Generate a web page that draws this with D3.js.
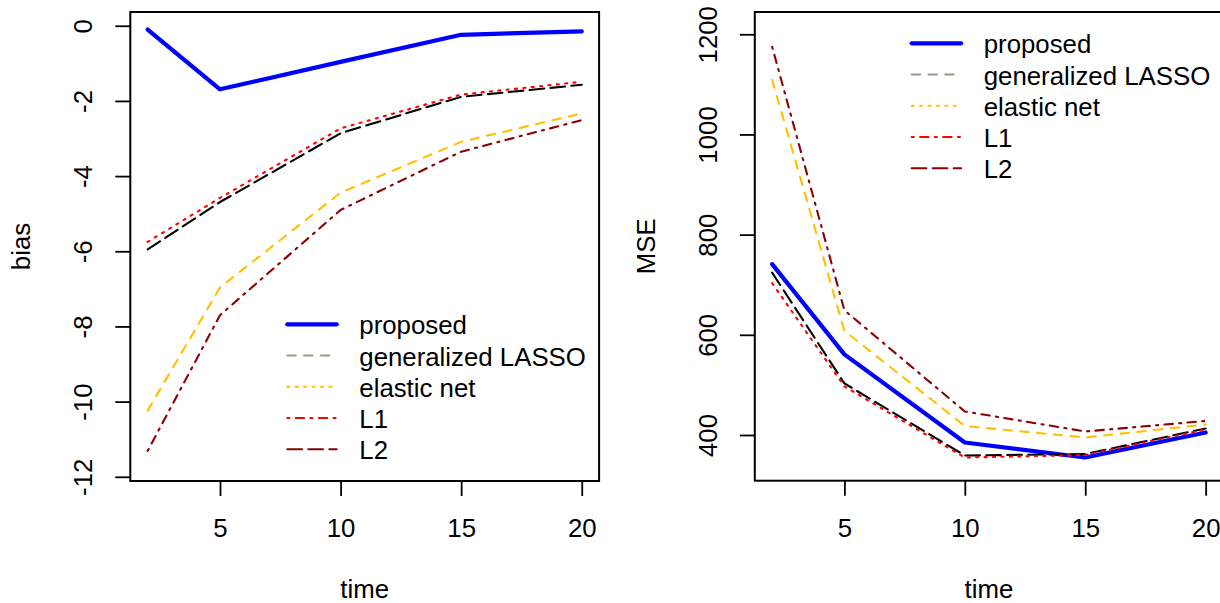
<!DOCTYPE html>
<html>
<head>
<meta charset="utf-8">
<script src="https://cdn.jsdelivr.net/npm/d3@7"></script>
<style>
  html, body { margin: 0; padding: 0; background: #fff; }
  svg { display: block; }
  text { font-family: "Liberation Sans", Arial, Helvetica, sans-serif; fill: #000; }
</style>
</head>
<body>
<svg id="chart" width="1220" height="603"></svg>
<script>
// ---- data ----
const time = [2, 5, 10, 15, 20];
const timeTicks = [5, 10, 15, 20];

const methods = ["proposed", "generalized LASSO", "elastic net", "L1", "L2"];

// bias by method over time
const biasProposed = [-0.10, -1.69, -0.96, -0.24, -0.15];
const biasGLasso   = [-5.95, -4.69, -2.86, -1.89, -1.57];
const biasElastic  = [-10.24, -6.96, -4.44, -3.09, -2.33];
const biasL1       = [-5.75, -4.58, -2.73, -1.83, -1.49];
const biasL2       = [-11.31, -7.70, -4.90, -3.35, -2.51];
const biasTicks = [0, -2, -4, -6, -8, -10, -12];
const biasLim = [-11.65, -0.096];

// MSE by method over time
const mseProposed = [741, 561, 385, 355, 405];
const mseGLasso   = [724, 503, 359, 362, 413];
const mseElastic  = [1109, 608, 418, 395, 421];
const mseL1       = [703, 497, 355, 360, 411];
const mseL2       = [1175, 649, 447, 407, 428];
const mseTicks = [400, 600, 800, 1000, 1200];
const mseLim = [343.4, 1209.8];

// ---- styling (R-like line types, scaled) ----
const u = 2.1;                       // one lty unit / lwd=1 in px
const lty = {
  solid: null,
  dashed: [4 * u, 4 * u],
  dotted: [1 * u, 3 * u],
  dotdash: [1 * u, 3 * u, 4 * u, 3 * u],
  longdash: [7 * u, 3 * u]
};
// styles of the drawn curves
const curveStyle = [
  { color: "#0000FF", lty: "solid",    lwd: 2 },
  { color: "#000000", lty: "longdash", lwd: 1 },
  { color: "#FFC000", lty: "dashed",   lwd: 1 },
  { color: "#FF0000", lty: "dotted",   lwd: 1 },
  { color: "#8B0000", lty: "dotdash",  lwd: 1 }
];
// styles of the legend keys
const keyStyle = [
  { color: "#0000FF", lty: "solid",    lwd: 2 },
  { color: "#999980", lty: "dashed",   lwd: 1 },
  { color: "#FFC000", lty: "dotted",   lwd: 1 },
  { color: "#FF0000", lty: "dotdash",  lwd: 1 },
  { color: "#8B0000", lty: "longdash", lwd: 1 }
];

const FONT = 25.8;
const svg = d3.select("#chart");

// R-style 4% axis expansion
function expand(lim) {
  const d = (lim[1] - lim[0]) * 0.04;
  return [lim[0] - d, lim[1] + d];
}

function panel(opts) {
  const { left, right, top, bottom, seriesList, yLim, yTicks, yLabel, legendX, legendY } = opts;
  const g = svg.append("g");

  const x = d3.scaleLinear().domain(expand(d3.extent(time))).range([left, right]);
  const y = d3.scaleLinear().domain(expand(yLim)).range([bottom, top]);

  // x axis
  const xa = g.append("g")
    .attr("transform", `translate(0,${bottom})`)
    .call(d3.axisBottom(x).tickValues(timeTicks).tickSize(15).tickPadding(22.5).tickFormat(d3.format("d")));
  xa.select(".domain").remove();
  xa.selectAll(".tick line").attr("stroke", "#000").attr("stroke-width", 1.8);
  xa.selectAll("text").attr("font-size", FONT).attr("font-family", null).attr("fill", "#000");

  // y axis with rotated labels
  const ya = g.append("g")
    .attr("transform", `translate(${left},0)`)
    .call(d3.axisLeft(y).tickValues(yTicks).tickSize(15).tickFormat(d => String(d)));
  ya.select(".domain").remove();
  ya.selectAll(".tick line").attr("stroke", "#000").attr("stroke-width", 1.8);
  ya.selectAll("text")
    .attr("x", null).attr("dy", null)
    .attr("transform", "translate(-38,0) rotate(-90)")
    .attr("text-anchor", "middle")
    .attr("font-size", FONT).attr("font-family", null).attr("fill", "#000");

  // axis titles
  g.append("text")
    .attr("x", (left + right) / 2).attr("y", bottom + 117)
    .attr("text-anchor", "middle").attr("font-size", FONT)
    .text("time");
  g.append("text")
    .attr("transform", `translate(${left - 100},${(top + bottom) / 2}) rotate(-90)`)
    .attr("text-anchor", "middle").attr("font-size", FONT)
    .text(yLabel);

  // curves
  const line = d3.line().x((d, i) => x(time[i])).y(d => y(d));
  seriesList.forEach((vals, i) => {
    const s = curveStyle[i];
    g.append("path")
      .attr("d", line(vals))
      .attr("fill", "none")
      .attr("stroke", s.color)
      .attr("stroke-width", s.lwd * u)
      .attr("stroke-linecap", "round")
      .attr("stroke-linejoin", "round")
      .attr("stroke-dasharray", lty[s.lty] ? lty[s.lty].join(",") : null);
  });

  // plot box
  g.append("rect")
    .attr("x", left).attr("y", top)
    .attr("width", right - left).attr("height", bottom - top)
    .attr("fill", "none").attr("stroke", "#000").attr("stroke-width", 2);

  // legend
  const lg = g.append("g");
  methods.forEach((m, i) => {
    const s = keyStyle[i];
    const ry = legendY + i * 31.25;
    lg.append("line")
      .attr("x1", legendX).attr("x2", legendX + 49.4)
      .attr("y1", ry).attr("y2", ry)
      .attr("stroke", s.color)
      .attr("stroke-width", s.lwd * u)
      .attr("stroke-linecap", "round")
      .attr("stroke-dasharray", lty[s.lty] ? lty[s.lty].join(",") : null);
    lg.append("text")
      .attr("x", legendX + 72).attr("y", ry + 10)
      .attr("font-size", FONT)
      .text(m);
  });
}

panel({
  left: 130.3, right: 599.1, top: 12, bottom: 481,
  seriesList: [biasProposed, biasGLasso, biasElastic, biasL1, biasL2],
  yLim: biasLim, yTicks: biasTicks, yLabel: "bias",
  legendX: 287.3, legendY: 324.3
});

panel({
  left: 754.8, right: 1223, top: 12, bottom: 480.7,
  seriesList: [mseProposed, mseGLasso, mseElastic, mseL1, mseL2],
  yLim: mseLim, yTicks: mseTicks, yLabel: "MSE",
  legendX: 911.7, legendY: 43.3
});
</script>
</body>
</html>
